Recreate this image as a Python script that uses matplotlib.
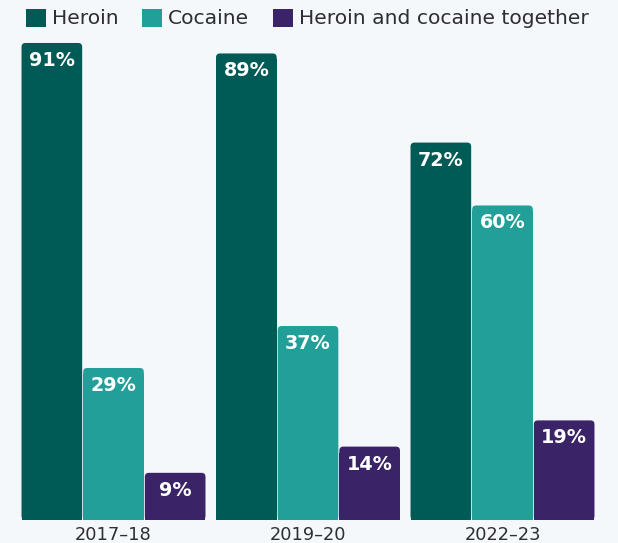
import numpy as np
import matplotlib.pyplot as plt
from matplotlib.patches import FancyBboxPatch, Rectangle

plt.rcParams['font.family'] = ['DejaVu Sans']

years = ['2017–18', '2019–20', '2022–23']
series = ['Heroin', 'Cocaine', 'Heroin and cocaine together']
heroin = [91, 89, 72]
cocaine = [29, 37, 60]
together = [9, 14, 19]
colors = ['#005a56', '#219f98', '#3a2367']
bg = '#f5f8fa'
ink = '#2e2e33'

fig = plt.figure(figsize=(6.18, 5.43), dpi=100, facecolor=bg)
W, H = 618, 543
# axes placed in pixel terms: baseline at y=520, bars span x 21..595
ax = fig.add_axes([21 / W, 23 / H, 574 / W, 498 / H])
ax.set_facecolor(bg)

x = np.arange(len(years))
bw = 0.317
ymax = 95
ax.set_xlim(-0.4756, 2.4756)
ax.set_ylim(0, ymax)

# data units per pixel, for circular corners
px_x = 2.951 / 574
px_y = ymax / 498
r = 4 * px_x

for i, (name, vals) in enumerate(zip(series, [heroin, cocaine, together])):
    offs = (i - 1) * bw
    bars = ax.bar(x + offs, vals, width=bw - px_x, color=colors[i], label=name)
    for b, v in zip(bars, vals):
        b.set_visible(False)
        x0, w, h = b.get_x(), b.get_width(), b.get_height()
        ax.add_patch(FancyBboxPatch((x0, 0), w, h,
                                    boxstyle=f'round,pad=0,rounding_size={r}',
                                    mutation_aspect=px_y / px_x,
                                    fc=colors[i], ec='none'))
        ax.add_patch(Rectangle((x0, 0), w, h - 6 * px_y, fc=colors[i], ec='none'))
        ax.text(x0 + w / 2, h - 17.5 * px_y, f'{v}%', ha='center', va='center',
                color='white', fontsize=13.8, fontweight='bold')

for s in ax.spines.values():
    s.set_visible(False)
ax.set_yticks([])
ax.set_xticks(x)
ax.set_xticklabels(years, fontsize=12.8, color=ink)
ax.tick_params(axis='x', length=0, pad=4)

# legend along the top
lx = [26, 142, 273]
for px, name, c in zip(lx, series, colors):
    fig.patches.append(Rectangle((px / W, (H - 27) / H), 20 / W, 18 / H,
                                 transform=fig.transFigure, fc=c, ec='none'))
    fig.text((px + 26) / W, (H - 18) / H, name, ha='left', va='center',
             fontsize=14.6, color=ink)

plt.savefig('out.png', dpi=100, facecolor=bg)
